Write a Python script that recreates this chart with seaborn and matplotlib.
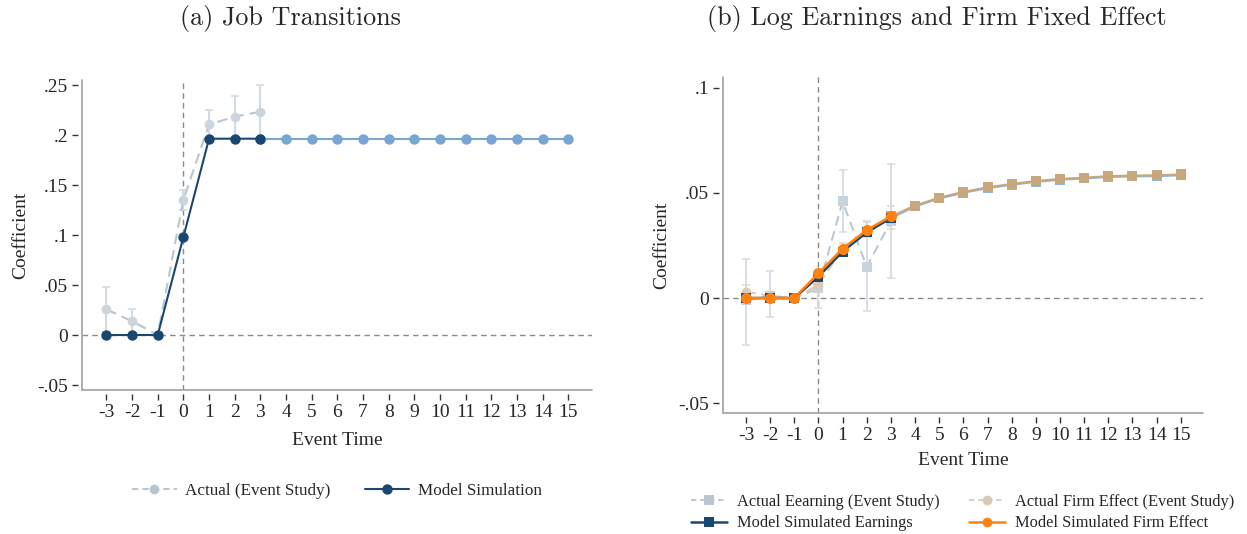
import numpy as np
import pandas as pd
import matplotlib
matplotlib.use("Agg")
import matplotlib.pyplot as plt
from matplotlib.lines import Line2D
import seaborn as sns

# ---- data ----
event_time = [-3, -2, -1, 0, 1, 2, 3, 4, 5, 6, 7, 8, 9, 10, 11, 12, 13, 14, 15]

# (a) job transitions
jt_actual_t = [-3, -2, -1, 0, 1, 2, 3]
jt_actual = [0.0256, 0.0138, 0.0, 0.1352, 0.2106, 0.2183, 0.2233]
jt_actual_lo = [0.0030, 0.0014, 0.0, 0.1252, 0.1963, 0.1974, 0.1968]
jt_actual_hi = [0.0482, 0.0262, 0.0, 0.1452, 0.2249, 0.2392, 0.2498]
jt_model = [0.0, 0.0, 0.0, 0.098, 0.1963, 0.1963, 0.1963, 0.1963, 0.1963, 0.1963,
            0.1963, 0.1963, 0.1963, 0.1963, 0.1963, 0.1963, 0.1963, 0.1963, 0.1963]

# (b) log earnings and firm fixed effect
earn_actual_t = [-3, -2, -1, 0, 1, 2, 3]
earn_actual = [-0.001, 0.001, 0.0, 0.0046, 0.0459, 0.0149, 0.0364]
earn_actual_lo = [-0.0224, -0.0089, 0.0, -0.0045, 0.0312, -0.0060, 0.0095]
earn_actual_hi = [0.0184, 0.0129, 0.0, 0.0120, 0.0606, 0.0367, 0.0636]
fe_actual = [0.003, 0.001, 0.0, 0.0062, 0.0235, 0.0322, 0.0378]
fe_actual_lo = [0.0000, -0.0010, 0.0, 0.0035, 0.0210, 0.0290, 0.0330]
fe_actual_hi = [0.0062, 0.0030, 0.0, 0.0090, 0.0262, 0.0362, 0.0435]
earn_model = [0.0, 0.0, 0.0, 0.0102, 0.0221, 0.0312, 0.0380, 0.0435, 0.0473, 0.0500,
              0.0522, 0.0538, 0.0552, 0.0562, 0.0568, 0.0575, 0.0578, 0.0579, 0.0583]
fe_model = [0.0, 0.0, 0.0, 0.0118, 0.0234, 0.0323, 0.0388, 0.0439, 0.0477, 0.0504,
            0.0526, 0.0542, 0.0556, 0.0566, 0.0572, 0.0579, 0.0582, 0.0583, 0.0587]

left_yticks = [-0.05, 0, 0.05, 0.1, 0.15, 0.2, 0.25]
left_ylabels = ["-.05", "0", ".05", ".1", ".15", ".2", ".25"]
right_yticks = [-0.05, 0, 0.05, 0.1]
right_ylabels = ["-.05", "0", ".05", ".1"]

df = pd.DataFrame({"t": event_time, "jt": jt_model, "earn": earn_model, "fe": fe_model})
pre = df[df["t"] <= 3]
post = df[df["t"] >= 3]

# ---- colours ----
navy = "#1a476f"
lightblue = "#78a6d2"
act_gray = "#b8c5d2"
act_err = "#d3dbe3"
tan_light = "#d9c8b6"
tan = "#c8a77c"
orange = "#ff8210"

sns.set_theme(style="ticks")
plt.rcParams["font.family"] = ["Liberation Serif", "DejaVu Serif"]

fig = plt.figure(figsize=(12.47, 5.34), dpi=100)
ax1 = fig.add_axes([82 / 1247, 1 - 390 / 534, 510 / 1247, 310 / 534])
ax2 = fig.add_axes([723 / 1247, 1 - 413 / 534, 480 / 1247, 336 / 534])


def style_axis(ax, yticks, ylabels, ylim):
    ax.set_xlim(-3.95, 15.92)
    ax.set_ylim(*ylim)
    ax.set_xticks(event_time)
    ax.set_xticklabels([str(t) for t in event_time])
    ax.set_yticks(yticks)
    ax.set_yticklabels(ylabels)
    for s in ["top", "right"]:
        ax.spines[s].set_visible(False)
    # ticks sit a little apart from the axis line, as in stata
    for s in ["left", "bottom"]:
        ax.spines[s].set_position(("outward", 3))
        ax.spines[s].set_visible(False)
    ax.plot([0, 1], [0, 0], transform=ax.transAxes, color="#a0a0a0", lw=1.2, clip_on=False)
    ax.plot([0, 0], [0, 1], transform=ax.transAxes, color="#a0a0a0", lw=1.2, clip_on=False)
    ax.tick_params(axis="both", length=4, width=1, color="#333333", labelsize=14, pad=3)
    ax.axhline(0, color="#8a8a8a", lw=1, ls=(0, (4, 3)), zorder=1)
    ax.axvline(0, color="#8a8a8a", lw=1, ls=(0, (4, 3)), zorder=1)


# ---- (a) Job Transitions ----
style_axis(ax1, left_yticks, left_ylabels, (-0.055, 0.255))
ax1.errorbar(jt_actual_t, jt_actual,
             yerr=[np.array(jt_actual) - np.array(jt_actual_lo), np.array(jt_actual_hi) - np.array(jt_actual)],
             fmt="none", ecolor=act_err, elinewidth=1.5, capsize=3, capthick=1.2, zorder=2)
sns.lineplot(x=jt_actual_t, y=jt_actual, ax=ax1, color=act_gray, lw=1.5,
             linestyle=(0, (5, 3)), marker="o", markersize=7, markeredgewidth=0,
             markerfacecolor="#ccd5de", legend=False, zorder=3)
sns.lineplot(data=post, x="t", y="jt", ax=ax1, color=lightblue, lw=1.5, marker="o",
             markersize=7.5, markeredgewidth=0, legend=False, zorder=4)
sns.lineplot(data=pre, x="t", y="jt", ax=ax1, color=navy, lw=1.5, marker="o",
             markersize=7.5, markeredgewidth=0, legend=False, zorder=5)
ax1.set_xlabel("Event Time", fontsize=14, labelpad=8)
ax1.set_ylabel("Coefficient", fontsize=14, labelpad=6)

h1 = [Line2D([], [], color=act_gray, lw=1.5, ls=(0, (3, 2)), marker="o", markersize=7,
             markerfacecolor="#b8c4d0", markeredgewidth=0),
      Line2D([], [], color=navy, lw=1.5, marker="o", markersize=7.5, markeredgewidth=0)]
ax1.legend(h1, ["Actual (Event Study)", "Model Simulation"], loc="center",
           bbox_to_anchor=(0.5, -0.325), ncol=2, frameon=False, fontsize=12.3,
           handlelength=2.6, columnspacing=2.0, handletextpad=0.5)

# ---- (b) Log Earnings and Firm Fixed Effect ----
style_axis(ax2, right_yticks, right_ylabels, (-0.0546, 0.105))
ax2.errorbar(earn_actual_t, earn_actual,
             yerr=[np.array(earn_actual) - np.array(earn_actual_lo), np.array(earn_actual_hi) - np.array(earn_actual)],
             fmt="none", ecolor=act_err, elinewidth=1.3, capsize=3, capthick=1.1, zorder=2)
ax2.errorbar(earn_actual_t, fe_actual,
             yerr=[np.array(fe_actual) - np.array(fe_actual_lo), np.array(fe_actual_hi) - np.array(fe_actual)],
             fmt="none", ecolor="#e2d6ca", elinewidth=1.3, capsize=3, capthick=1.1, zorder=2)
sns.lineplot(x=earn_actual_t, y=earn_actual, ax=ax2, color=act_gray, lw=1.4,
             linestyle=(0, (5, 3)), marker="s", markersize=7, markeredgewidth=0,
             markerfacecolor="#c8d3de", legend=False, zorder=3)
sns.lineplot(x=earn_actual_t, y=fe_actual, ax=ax2, color=tan_light, lw=1.4,
             linestyle=(0, (5, 3)), marker="o", markersize=7, markeredgewidth=0,
             markerfacecolor="#dccbb9", legend=False, zorder=3)
sns.lineplot(data=post, x="t", y="earn", ax=ax2, color="#8db5db", lw=1.5, marker="s",
             markersize=7.5, markeredgewidth=0, legend=False, zorder=4)
sns.lineplot(data=post, x="t", y="fe", ax=ax2, color=tan, lw=1.5, marker="s",
             markersize=7, markeredgewidth=0, legend=False, zorder=4)
sns.lineplot(data=pre, x="t", y="earn", ax=ax2, color=navy, lw=1.8, marker="s",
             markersize=7, markeredgewidth=0, legend=False, zorder=5)
sns.lineplot(data=pre, x="t", y="fe", ax=ax2, color=orange, lw=1.8, marker="o",
             markersize=8, markeredgewidth=0, legend=False, zorder=6)
ax2.set_xlabel("Event Time", fontsize=14, labelpad=6)
ax2.set_ylabel("Coefficient", fontsize=14, labelpad=6)

h2 = [Line2D([], [], color=act_gray, lw=1.3, ls=(0, (3, 2)), marker="s", markersize=7,
             markeredgewidth=0),
      Line2D([], [], color=navy, lw=1.8, marker="s", markersize=7, markeredgewidth=0),
      Line2D([], [], color=tan_light, lw=1.3, ls=(0, (3, 2)), marker="o", markersize=7,
             markeredgewidth=0),
      Line2D([], [], color=orange, lw=1.8, marker="o", markersize=7, markeredgewidth=0)]
ax2.legend(h2, ["Actual Eearning (Event Study)", "Model Simulated Earnings",
                "Actual Firm Effect (Event Study)", "Model Simulated Firm Effect"],
           loc="center", bbox_to_anchor=(0.5, -0.296), ncol=2, frameon=False, fontsize=11.8,
           handlelength=2.2, columnspacing=1.8, handletextpad=0.6, labelspacing=0.35)

# ---- panel titles ----
fig.text(290 / 1247, 1 - 19 / 534, "(a) Job Transitions", ha="center", va="center",
         fontsize=18.8, family="cmr10")
fig.text(937 / 1247, 1 - 19 / 534, "(b) Log Earnings and Firm Fixed Effect", ha="center",
         va="center", fontsize=18.8, family="cmr10")

fig.savefig("out.png", dpi=100)
